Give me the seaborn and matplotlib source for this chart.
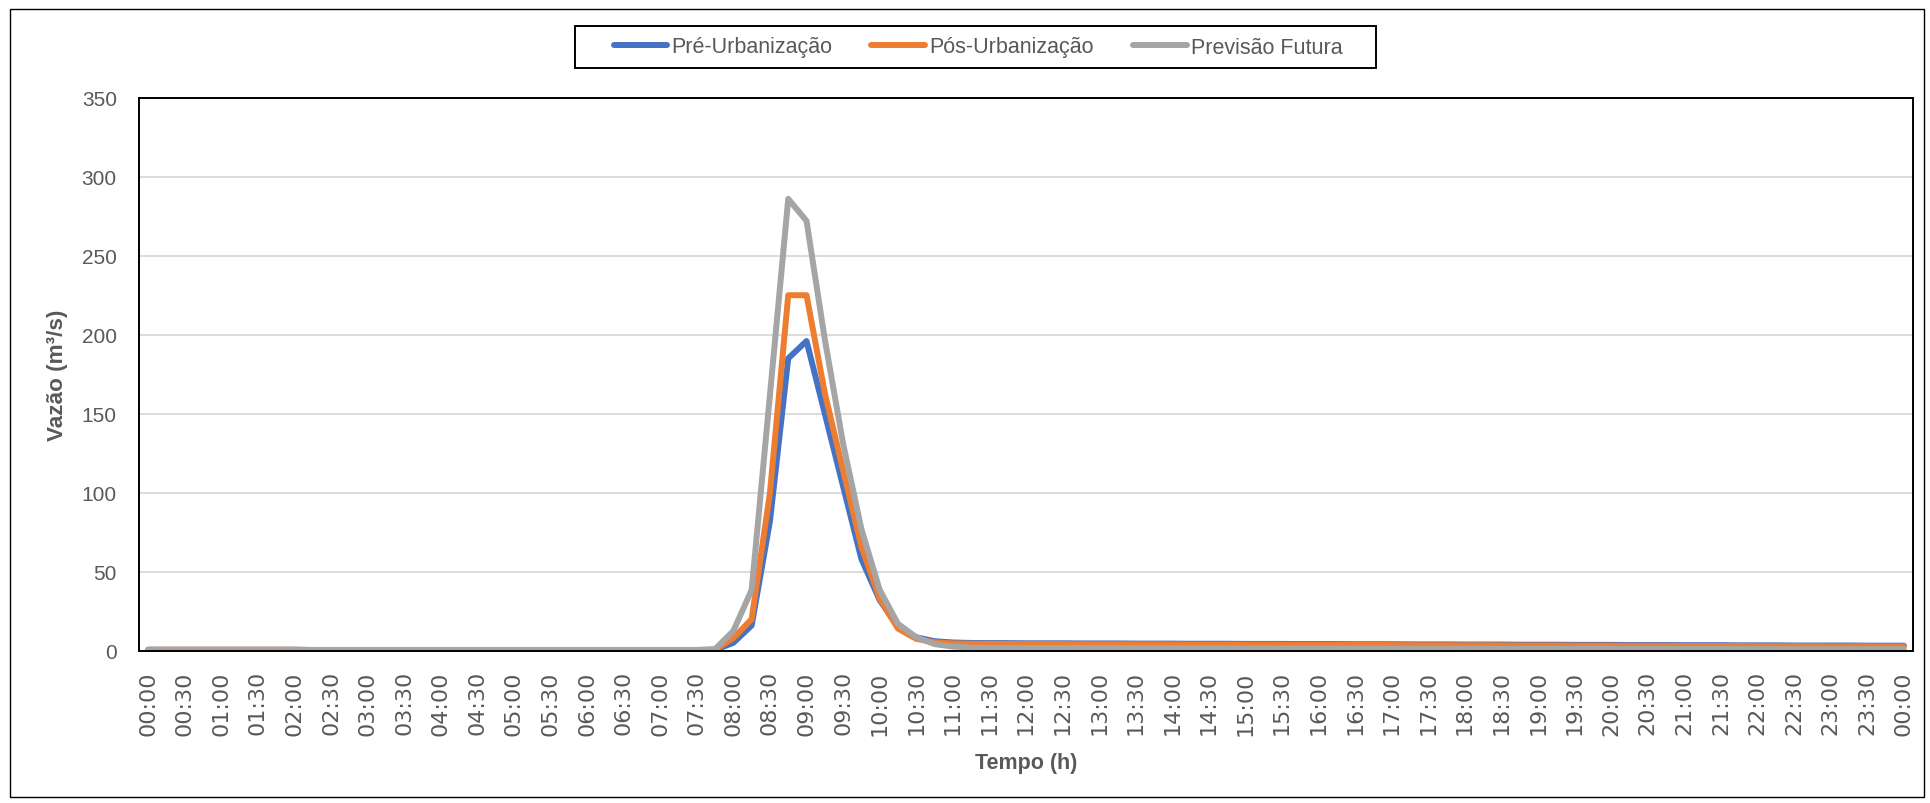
import matplotlib
matplotlib.use("Agg")
import matplotlib.pyplot as plt
import seaborn as sns
import pandas as pd
from matplotlib.patches import Rectangle
from matplotlib.lines import Line2D

# ---------------- data ----------------
time_labels = [f"{(m // 60) % 24:02d}:{m % 60:02d}" for m in range(0, 24 * 60 + 1, 15)]

pre_urbanizacao = [
    0.5, 0.5, 0.5, 0.5, 0.5, 0.5, 0.5, 0.5, 0.5,
    0.3, 0.3, 0.3, 0.3, 0.3, 0.3, 0.3, 0.3, 0.3, 0.3, 0.3,
    0.3, 0.3, 0.3, 0.3, 0.3, 0.3, 0.3, 0.3, 0.3, 0.3, 0.3,
    0.5, 5.0, 16.0, 82.0, 185.0, 196.0, 150.0, 104.0, 58.0, 32.0,
    15.0, 8.5, 6.0, 5.2, 4.9,
    4.8, 4.8, 4.7, 4.7, 4.7, 4.6, 4.6, 4.6, 4.5, 4.5,
    4.5, 4.4, 4.4, 4.4, 4.3, 4.3, 4.3, 4.2, 4.2, 4.2,
    4.1, 4.1, 4.1, 4.0, 4.0, 4.0, 3.9, 3.9, 3.9, 3.8,
    3.8, 3.8, 3.7, 3.7, 3.7, 3.6, 3.6, 3.6, 3.5, 3.5,
    3.5, 3.4, 3.4, 3.4, 3.3, 3.3, 3.3, 3.3, 3.2, 3.2, 3.2,
]

pos_urbanizacao = [
    0.6, 0.6, 0.6, 0.6, 0.6, 0.6, 0.6, 0.6, 0.6,
    0.4, 0.4, 0.4, 0.4, 0.4, 0.4, 0.4, 0.4, 0.4, 0.4, 0.4,
    0.4, 0.4, 0.4, 0.4, 0.4, 0.4, 0.4, 0.4, 0.4, 0.4, 0.4,
    0.6, 8.0, 20.0, 100.0, 225.0, 225.0, 163.0, 114.0, 66.0, 33.0,
    14.0, 7.5, 5.3, 4.6, 4.4,
    4.3, 4.3, 4.2, 4.2, 4.2, 4.1, 4.1, 4.1, 4.0, 4.0,
    4.0, 3.9, 3.9, 3.9, 3.8, 3.8, 3.8, 3.7, 3.7, 3.7,
    3.6, 3.6, 3.6, 3.5, 3.5, 3.5, 3.4, 3.4, 3.4, 3.3,
    3.3, 3.3, 3.2, 3.2, 3.2, 3.1, 3.1, 3.1, 3.0, 3.0,
    3.0, 3.0, 2.9, 2.9, 2.9, 2.9, 2.8, 2.8, 2.8, 2.8, 2.8,
]

previsao_futura = [
    0.7, 0.7, 0.7, 0.7, 0.7, 0.7, 0.7, 0.7, 0.7,
    0.5, 0.5, 0.5, 0.5, 0.5, 0.5, 0.5, 0.5, 0.5, 0.5, 0.5,
    0.5, 0.5, 0.5, 0.5, 0.5, 0.5, 0.5, 0.5, 0.5, 0.5, 0.5,
    1.0, 12.5, 38.5, 162.0, 286.0, 272.0, 197.0, 131.0, 77.0, 38.5,
    17.0, 8.5, 4.2, 2.6, 1.9,
    1.8, 1.8, 1.7, 1.7, 1.7, 1.7, 1.6, 1.6, 1.6, 1.6,
    1.6, 1.5, 1.5, 1.5, 1.5, 1.5, 1.4, 1.4, 1.4, 1.4,
    1.4, 1.4, 1.3, 1.3, 1.3, 1.3, 1.3, 1.3, 1.2, 1.2,
    1.2, 1.2, 1.2, 1.2, 1.2, 1.1, 1.1, 1.1, 1.1, 1.1,
    1.1, 1.1, 1.1, 1.0, 1.0, 1.0, 1.0, 1.0, 1.0, 1.0, 1.0,
]

series_names = ["Pré-Urbanização", "Pós-Urbanização", "Previsão Futura"]
series_colors = ["#4472C4", "#ED7D31", "#A5A5A5"]
y_ticks = [0, 50, 100, 150, 200, 250, 300, 350]

# ---------------- frame ----------------
rows = []
for name, vals in zip(series_names, [pre_urbanizacao, pos_urbanizacao, previsao_futura]):
    for i, v in enumerate(vals):
        rows.append({"idx": i, "Vazão": v, "Série": name})
df = pd.DataFrame(rows)

sns.set_style("white")
plt.rcParams["font.family"] = ["Liberation Sans", "DejaVu Sans"]
TXT = "#595959"
LW = 4.3

fig = plt.figure(figsize=(19.30, 8.04), dpi=100)
ax = fig.add_axes([139 / 1930, 1 - 651.7 / 804, (1913 - 139) / 1930, (651.7 - 98.7) / 804])

sns.lineplot(data=df, x="idx", y="Vazão", hue="Série", hue_order=series_names,
             palette=series_colors, linewidth=LW, ax=ax, legend=False,
             solid_joinstyle="round", solid_capstyle="round")

n = len(time_labels)
ax.set_xlim(-0.5, n - 0.5)
ax.set_ylim(0, 350)
ax.set_yticks(y_ticks)
ax.set_yticklabels([str(t) for t in y_ticks], fontsize=15, color=TXT)
ax.set_xticks(range(0, n, 2))
ax.set_xticklabels(time_labels[::2], rotation=90, fontsize=16, color=TXT,
                   family="DejaVu Sans")
ax.tick_params(axis="both", length=0)
ax.tick_params(axis="y", pad=16)
ax.tick_params(axis="x", pad=14)

ax.grid(axis="y", color="#D9D9D9", linewidth=1.3)
ax.grid(axis="x", visible=False)
ax.set_axisbelow(True)
for s in ax.spines.values():
    s.set_visible(True)
    s.set_color("black")
    s.set_linewidth(1.4)

ax.set_xlabel("Tempo (h)", fontsize=15.5, fontweight="bold", color=TXT)
ax.set_ylabel("Vazão (m³/s)", fontsize=16.2, fontweight="bold", color=TXT)
ax.xaxis.set_label_coords(0.5, -0.2013)
ax.xaxis.label.set_va("center")
ax.yaxis.set_label_coords(-0.0457, 0.5)
ax.yaxis.label.set_va("center")

# legend (entries) + its frame drawn as a figure rectangle
handles = [Line2D([0], [0], color=c, linewidth=LW, solid_capstyle="round") for c in series_colors]
leg = fig.legend(handles, series_names, loc="center", bbox_to_anchor=(978 / 1930, 1 - 48 / 804),
                 ncol=3, frameon=False, fontsize=15.5,
                 handlelength=2.5, handletextpad=0.2, columnspacing=1.8, borderpad=0.45,
                 borderaxespad=0)
for t in leg.get_texts():
    t.set_color(TXT)
fig.patches.append(Rectangle((575 / 1930, 1 - 69 / 804), (1376 - 575) / 1930, (69 - 27) / 804,
                             transform=fig.transFigure, fill=False, edgecolor="black",
                             linewidth=1.4))

# outer border
fig.patches.append(Rectangle((10 / 1930, 1 - 798 / 804), (1924 - 10) / 1930, (798 - 10) / 804,
                             transform=fig.transFigure, fill=False, edgecolor="black",
                             linewidth=1.0))

fig.savefig("out.png", dpi=100, facecolor="white")
